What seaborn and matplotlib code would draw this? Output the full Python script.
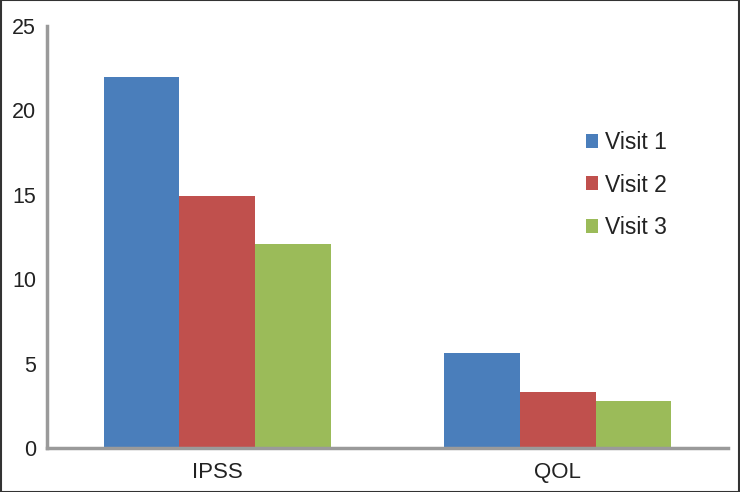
import pandas as pd
import matplotlib
matplotlib.use('Agg')
import matplotlib.pyplot as plt
import seaborn as sns

# data
categories = ['IPSS', 'QOL']
visits = ['Visit 1', 'Visit 2', 'Visit 3']
visit1 = [22.0, 5.6]
visit2 = [14.9, 3.3]
visit3 = [12.1, 2.8]
y_ticks = [0, 5, 10, 15, 20, 25]

colors = ['#4A7EBB', '#C0504D', '#9BBB59']
AXIS_GREY = '#9a9a9a'

rows = []
for visit, vals in zip(visits, [visit1, visit2, visit3]):
    for cat, v in zip(categories, vals):
        rows.append({'Measure': cat, 'Visit': visit, 'Score': v})
df = pd.DataFrame(rows)

sns.set_theme(style="white")
plt.rcParams['font.family'] = ['Liberation Sans', 'DejaVu Sans']

fig = plt.figure(figsize=(7.4, 4.92), dpi=100)
ax = fig.add_axes([47 / 740, 1 - 448 / 492, 681 / 740, 422 / 492])

sns.barplot(data=df, x='Measure', y='Score', hue='Visit', order=categories,
            hue_order=visits, palette=colors, width=0.667, saturation=1,
            linewidth=0, ax=ax, legend=True)

ax.set_xlim(-0.5, 1.5)
ax.set_ylim(0, 25)
ax.set_yticks(y_ticks)
ax.set_yticklabels([str(t) for t in y_ticks], fontsize=15.5, color='#222222')
ax.set_xlabel('')
ax.set_ylabel('')

# category labels without ticks, separator tick between the groups
ax.set_xticks([0, 1])
ax.set_xticklabels(categories, fontsize=16, color='#222222')
ax.tick_params(axis='x', length=0, pad=10)
ax.set_xticks([0.5], minor=True)
ax.tick_params(axis='x', which='minor', length=6, width=2, color=AXIS_GREY, direction='out')
ax.tick_params(axis='y', length=5, width=2, color=AXIS_GREY, direction='out', pad=3)

for side in ['top', 'right']:
    ax.spines[side].set_visible(False)
for side in ['left', 'bottom']:
    ax.spines[side].set_color(AXIS_GREY)
    ax.spines[side].set_linewidth(2.5)

leg = ax.legend(loc='upper left', bbox_to_anchor=(0.761, 0.80), frameon=False,
                fontsize=16.5, handlelength=0.55, handleheight=0.55,
                handletextpad=0.3, labelspacing=0.85)
for t in leg.get_texts():
    t.set_color('#222222')

# thin dark frame around the whole image
fig.patches.append(plt.Rectangle((0.001, 0.001), 0.998, 0.998, transform=fig.transFigure,
                                 fill=False, edgecolor='#333333', linewidth=1.5))

fig.savefig('out.png', dpi=100)
plt.close(fig)
